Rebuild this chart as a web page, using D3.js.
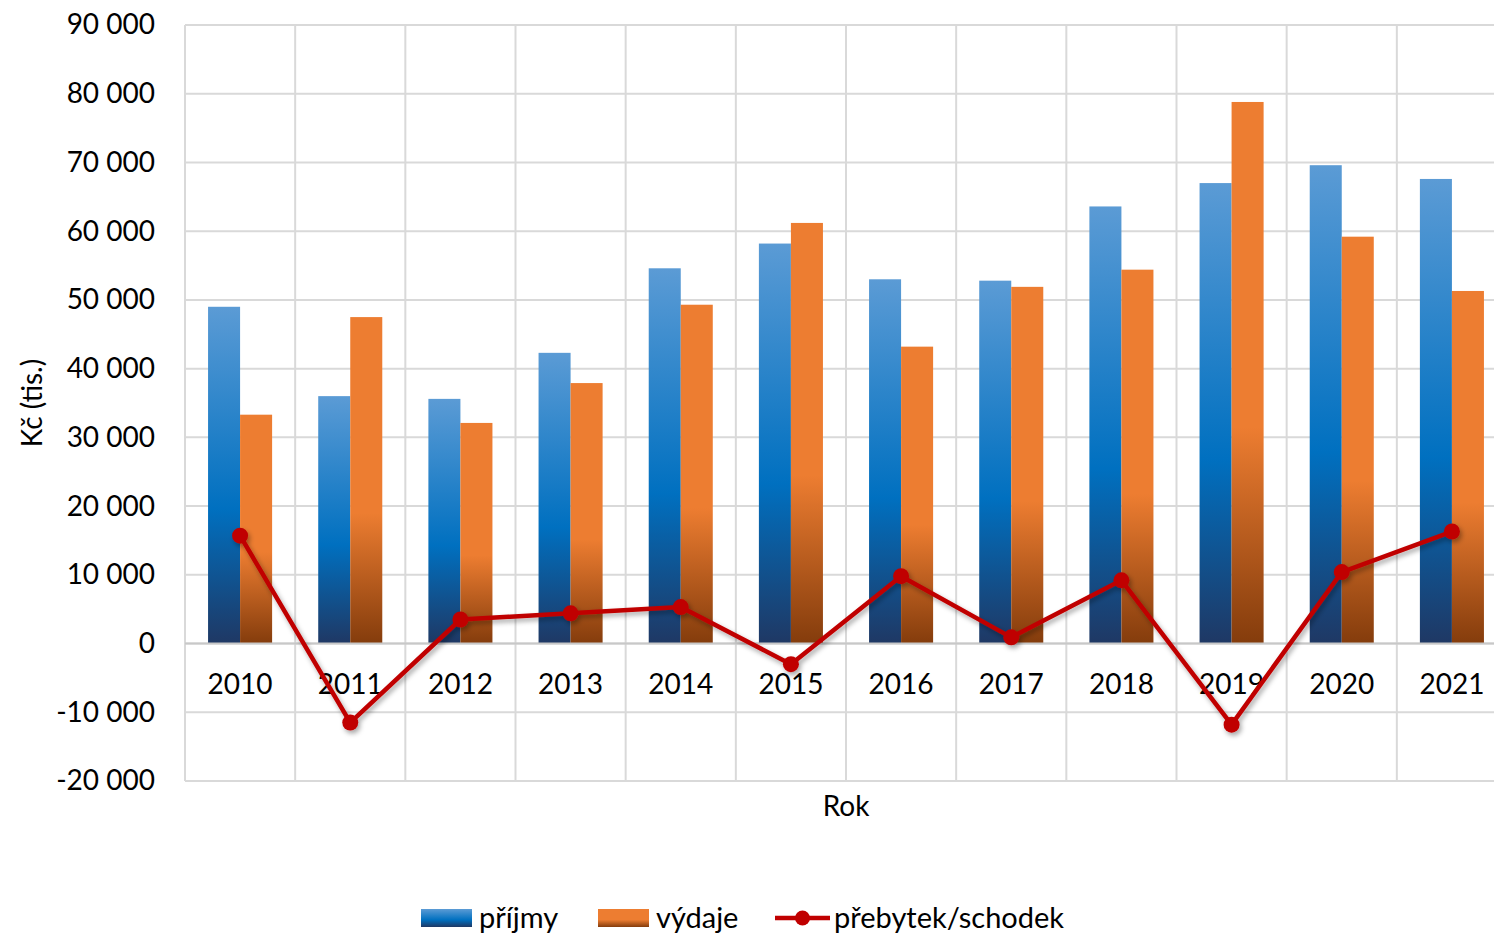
<!DOCTYPE html>
<html>
<head>
<meta charset="utf-8">
<script src="https://cdn.jsdelivr.net/npm/d3@7"></script>
<style>
  body { margin: 0; background: #fff; overflow: hidden; }
  text { font-family: Lato, "Open Sans", sans-serif; fill: #000; }
</style>
</head>
<body>
<div id="container"></div>
<script>
/**
 * DATA
 * */
const years = ['2010', '2011', '2012', '2013', '2014', '2015', '2016', '2017', '2018', '2019', '2020', '2021']
const prijmy = [49000, 36000, 35600, 42300, 54600, 58200, 53000, 52800, 63600, 67000, 69600, 67600]
const vydaje = [33300, 47500, 32100, 37900, 49300, 61200, 43200, 51900, 54400, 78800, 59200, 51300]
const saldo = [15700, -11500, 3500, 4400, 5300, -3000, 9800, 900, 9200, -11800, 10400, 16300]
const yTicks = [-20000, -10000, 0, 10000, 20000, 30000, 40000, 50000, 60000, 70000, 80000, 90000]
const seriesNames = ['příjmy', 'výdaje', 'přebytek/schodek']

/**
 * CONSTANTS
 * */
const width = 1494,
  height = 935,
  // plot area runs a little past the right edge of the picture
  margin = { top: 25, bottom: 154, left: 185, right: -13 }

const svg = d3.select('#container')
  .append('svg')
  .attr('width', width)
  .attr('height', height)
  .style('display', 'block')

const defs = svg.append('defs')

// blue gradient: light on top, dark at the base
const gBlue = defs.append('linearGradient').attr('id', 'gBlue')
  .attr('x1', 0).attr('y1', 0).attr('x2', 0).attr('y2', 1)
gBlue.append('stop').attr('offset', '0%').attr('stop-color', '#5b9bd5')
gBlue.append('stop').attr('offset', '60%').attr('stop-color', '#0070c0')
gBlue.append('stop').attr('offset', '100%').attr('stop-color', '#1f3864')

const gOrange = defs.append('linearGradient').attr('id', 'gOrange')
  .attr('x1', 0).attr('y1', 0).attr('x2', 0).attr('y2', 1)
gOrange.append('stop').attr('offset', '0%').attr('stop-color', '#ed7d31')
gOrange.append('stop').attr('offset', '60%').attr('stop-color', '#ed7d31')
gOrange.append('stop').attr('offset', '100%').attr('stop-color', '#843c0c')

// shadow for the line
const shadow = defs.append('filter').attr('id', 'shadow')
  .attr('x', '-20%').attr('y', '-20%').attr('width', '140%').attr('height', '140%')
shadow.append('feDropShadow')
  .attr('dx', 2).attr('dy', 3).attr('stdDeviation', 2.5)
  .attr('flood-color', '#000').attr('flood-opacity', 0.35)

/**
 * SCALES
 * */
const x = d3.scaleBand()
  .domain(years)
  .range([margin.left, width - margin.right])

const xSub = d3.scaleBand()
  .domain([0, 1])
  .range([0, x.bandwidth()])
  .paddingOuter(0.72)
  .paddingInner(0)

const y = d3.scaleLinear()
  .domain([-20000, 90000])
  .range([height - margin.bottom, margin.top])

const fmt = v => d3.format(',')(v).replace(/,/g, ' ').replace('\u2212', '-')

// gridlines
svg.append('g')
  .selectAll('line.h')
  .data(yTicks)
  .join('line')
  .attr('class', 'h')
  .attr('x1', margin.left).attr('x2', width - margin.right)
  .attr('y1', d => y(d)).attr('y2', d => y(d))
  .attr('stroke', '#d9d9d9').attr('stroke-width', 2)

svg.append('g')
  .selectAll('line.v')
  .data(years.concat(['end']))
  .join('line')
  .attr('class', 'v')
  .attr('x1', (d, i) => margin.left + i * x.bandwidth())
  .attr('x2', (d, i) => margin.left + i * x.bandwidth())
  .attr('y1', y(90000)).attr('y2', y(-20000))
  .attr('stroke', '#d9d9d9').attr('stroke-width', 2)

// y axis labels
const yAxis = svg.append('g')
  .attr('transform', `translate(${margin.left - 30},0)`)
  .call(d3.axisLeft(y).tickValues(yTicks).tickSize(0).tickPadding(0).tickFormat(fmt))
yAxis.select('.domain').remove()
yAxis.selectAll('text')
  .style('font-size', '28px')
  .style('font-family', 'Lato, sans-serif')
  .attr('fill', '#000')

// bars
const groups = svg.append('g')
  .selectAll('g.year')
  .data(years)
  .join('g')
  .attr('class', 'year')
  .attr('transform', d => `translate(${x(d)},0)`)

groups.append('rect')
  .attr('x', xSub(0))
  .attr('width', xSub.bandwidth())
  .attr('y', (d, i) => y(prijmy[i]))
  .attr('height', (d, i) => y(0) - y(prijmy[i]))
  .attr('fill', 'url(#gBlue)')

groups.append('rect')
  .attr('x', xSub(1))
  .attr('width', xSub.bandwidth())
  .attr('y', (d, i) => y(vydaje[i]))
  .attr('height', (d, i) => y(0) - y(vydaje[i]))
  .attr('fill', 'url(#gOrange)')

// zero line
svg.append('line')
  .attr('x1', margin.left).attr('x2', width - margin.right)
  .attr('y1', y(0)).attr('y2', y(0))
  .attr('stroke', '#c8c8c8').attr('stroke-width', 2)

// x axis labels
const xAxis = svg.append('g')
  .attr('transform', `translate(0,${y(0)})`)
  .call(d3.axisBottom(x).tickSize(0).tickPadding(31))
xAxis.select('.domain').remove()
xAxis.selectAll('text')
  .style('font-size', '28px')
  .style('font-family', 'Lato, sans-serif')
  .attr('fill', '#000')

// line series
const line = d3.line()
  .x((d, i) => x(years[i]) + x.bandwidth() / 2)
  .y(d => y(d))

const lineG = svg.append('g').attr('filter', 'url(#shadow)')
lineG.append('path')
  .datum(saldo)
  .attr('d', line)
  .attr('fill', 'none')
  .attr('stroke', '#c00000')
  .attr('stroke-width', 4.5)
  .attr('stroke-linejoin', 'round')

lineG.selectAll('circle')
  .data(saldo)
  .join('circle')
  .attr('cx', (d, i) => x(years[i]) + x.bandwidth() / 2)
  .attr('cy', d => y(d))
  .attr('r', 8)
  .attr('fill', '#c00000')

// axis titles
svg.append('text')
  .attr('x', (margin.left + width - margin.right) / 2)
  .attr('y', 816)
  .attr('text-anchor', 'middle')
  .style('font-size', '28px')
  .text('Rok')

svg.append('text')
  .attr('transform', `translate(42,${(y(90000) + y(-20000)) / 2}) rotate(-90)`)
  .attr('text-anchor', 'middle')
  .style('font-size', '28px')
  .text('Kč (tis.)')

// legend
const legend = svg.append('g')
const legY = 918
const legItems = [
  { name: seriesNames[0], x: 421, type: 'rect', fill: 'url(#gBlue)' },
  { name: seriesNames[1], x: 598, type: 'rect', fill: 'url(#gOrange)' },
  { name: seriesNames[2], x: 775, type: 'line' }
]
legItems.forEach(item => {
  const g = legend.append('g').attr('transform', `translate(${item.x},0)`)
  if (item.type === 'rect') {
    g.append('rect')
      .attr('x', 0).attr('y', legY - 9)
      .attr('width', 51).attr('height', 18)
      .attr('fill', item.fill)
    g.append('text')
      .attr('x', 58).attr('y', legY + 10)
      .style('font-size', '29px')
      .text(item.name)
  } else {
    g.append('line')
      .attr('x1', 0).attr('x2', 55)
      .attr('y1', legY).attr('y2', legY)
      .attr('stroke', '#c00000').attr('stroke-width', 4.5)
    g.append('circle')
      .attr('cx', 27.5).attr('cy', legY).attr('r', 7.5)
      .attr('fill', '#c00000')
    g.append('text')
      .attr('x', 59).attr('y', legY + 10)
      .style('font-size', '29px')
      .text(item.name)
  }
})
</script>
</body>
</html>
